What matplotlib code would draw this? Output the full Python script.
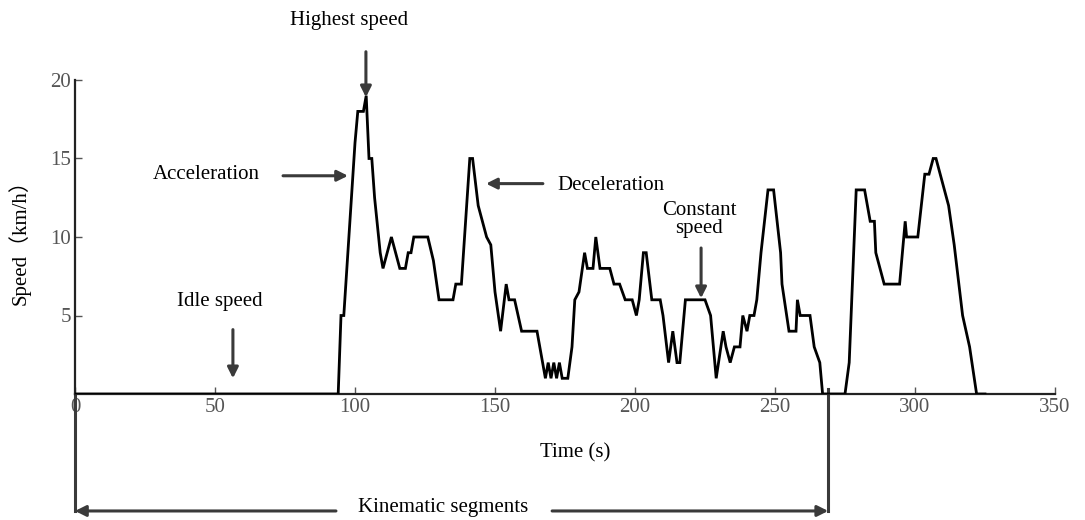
import matplotlib
matplotlib.use("Agg")
import matplotlib.pyplot as plt

plt.rcParams['font.family'] = ['Liberation Serif', 'Noto Sans CJK SC', 'DejaVu Sans']

time_s = [0, 94, 95, 96, 100, 101, 103, 104, 105, 106, 107, 109, 110, 113, 116, 118,
          119, 120, 121, 126, 128, 130, 135, 136, 138, 141, 142, 144, 147, 148.5,
          150, 152, 154, 155, 157, 159.5, 165, 166.5, 168, 169, 170, 171, 172, 173,
          174, 176, 177.5, 178.5, 180, 182, 183, 185, 186, 187.5, 191, 192.5, 194.5,
          196.5, 199, 200.5, 201.5, 203, 204, 206, 209, 210, 212, 213.5, 215, 216,
          218, 225, 227, 229, 231.5, 232.5, 234, 235.5, 237.5, 238.5, 240, 241,
          242.5, 243.5, 245, 247.5, 249.5, 252, 252.5, 255, 257.5, 258, 259, 262.5,
          264, 266, 267, 275, 276.5, 279, 282, 284, 285.5, 286, 289, 294.5, 296.5,
          297, 301, 303.5, 305, 306.5, 307.5, 309, 312, 314, 315, 317, 319.5, 322, 325]
speed_kmh = [0, 0, 5, 5, 16, 18, 18, 19, 15, 15, 12.5, 9, 8, 10, 8, 8,
             9, 9, 10, 10, 8.5, 6, 6, 7, 7, 15, 15, 12, 10, 9.5,
             6.5, 4, 7, 6, 6, 4, 4, 2.5, 1, 2, 1, 2, 1, 2,
             1, 1, 3, 6, 6.5, 9, 8, 8, 10, 8, 8, 7, 7,
             6, 6, 5, 6, 9, 9, 6, 6, 5, 2, 4, 2, 2,
             6, 6, 5, 1, 4, 3, 2, 3, 3, 5, 4, 5,
             5, 6, 9, 13, 13, 9, 7, 4, 4, 6, 5, 5,
             3, 2, 0, 0, 2, 13, 13, 11, 11, 9, 7, 7, 11,
             10, 10, 14, 14, 15, 15, 14, 12, 9.5, 8, 5, 3, 0, 0]

x_ticks = [0, 50, 100, 150, 200, 250, 300, 350]
y_ticks = [5, 10, 15, 20]

annotations = [
    # text, text position, arrow start, arrow end
    ("Highest speed", (97.9, 23.8), (103.9, 21.8), (103.9, 18.9)),
    ("Acceleration", (46.8, 14.0), (74.3, 13.9), (97.5, 13.9)),
    ("Deceleration", (191.4, 13.3), (167.1, 13.4), (146.8, 13.4)),
    ("Constant\nspeed", (222.9, 11.1), (223.6, 9.3), (223.6, 6.1)),
    ("Idle speed", (51.8, 5.9), (56.4, 4.1), (56.4, 1.0)),
]
segment_start, segment_end = 0, 269

fig = plt.figure(figsize=(10.85, 5.2), dpi=100)
ax = fig.add_axes([75/1085, 1-394/520, 980/1085, 314/520])
ax.plot(time_s, speed_kmh, color='black', lw=2.0, solid_joinstyle='miter', zorder=3)
ax.set_xlim(0, 350)
ax.set_ylim(0, 20)
ax.set_xticks(x_ticks)
ax.set_xticklabels(['0', '50', '100', '150', '200', '250', '300', '350'])
ax.set_yticks(y_ticks)
for s in ['top', 'right']:
    ax.spines[s].set_visible(False)
for s in ['left', 'bottom']:
    ax.spines[s].set_linewidth(1.6)
    ax.spines[s].set_color('#222222')
ax.tick_params(direction='in', length=5, width=1.0, color='#555555',
               labelsize=15, labelcolor='#555555', pad=3)
ax.set_ylabel('Speed（km/h）', fontsize=15, labelpad=14)
ax.text(178.6, -3.76, 'Time (s)', fontsize=15, ha='center', va='center')

akw = dict(arrowstyle='-|>', color='#3a3a3a', lw=2.2, mutation_scale=16,
           shrinkA=0, shrinkB=0)
for txt, tpos, a0, a1 in annotations:
    ax.text(tpos[0], tpos[1], txt, fontsize=15, ha='center', va='center',
            linespacing=0.95, clip_on=False)
    ax.annotate('', xy=a1, xytext=a0, arrowprops=akw, annotation_clip=False)

# Kinematic segments bracket
ybr = -7.45
ax.plot([segment_start, segment_start], [0, ybr], color='#3a3a3a', lw=2.2, clip_on=False)
ax.plot([segment_end, segment_end], [0.3, ybr], color='#3a3a3a', lw=2.2, clip_on=False)
ax.annotate('', xy=(segment_start, ybr), xytext=(93.2, ybr), arrowprops=akw, annotation_clip=False)
ax.annotate('', xy=(segment_end, ybr), xytext=(170.4, ybr), arrowprops=akw, annotation_clip=False)
ax.text(131.4, ybr + 0.2, 'Kinematic segments', fontsize=15, ha='center', va='center')

fig.savefig('out.png', dpi=100)
